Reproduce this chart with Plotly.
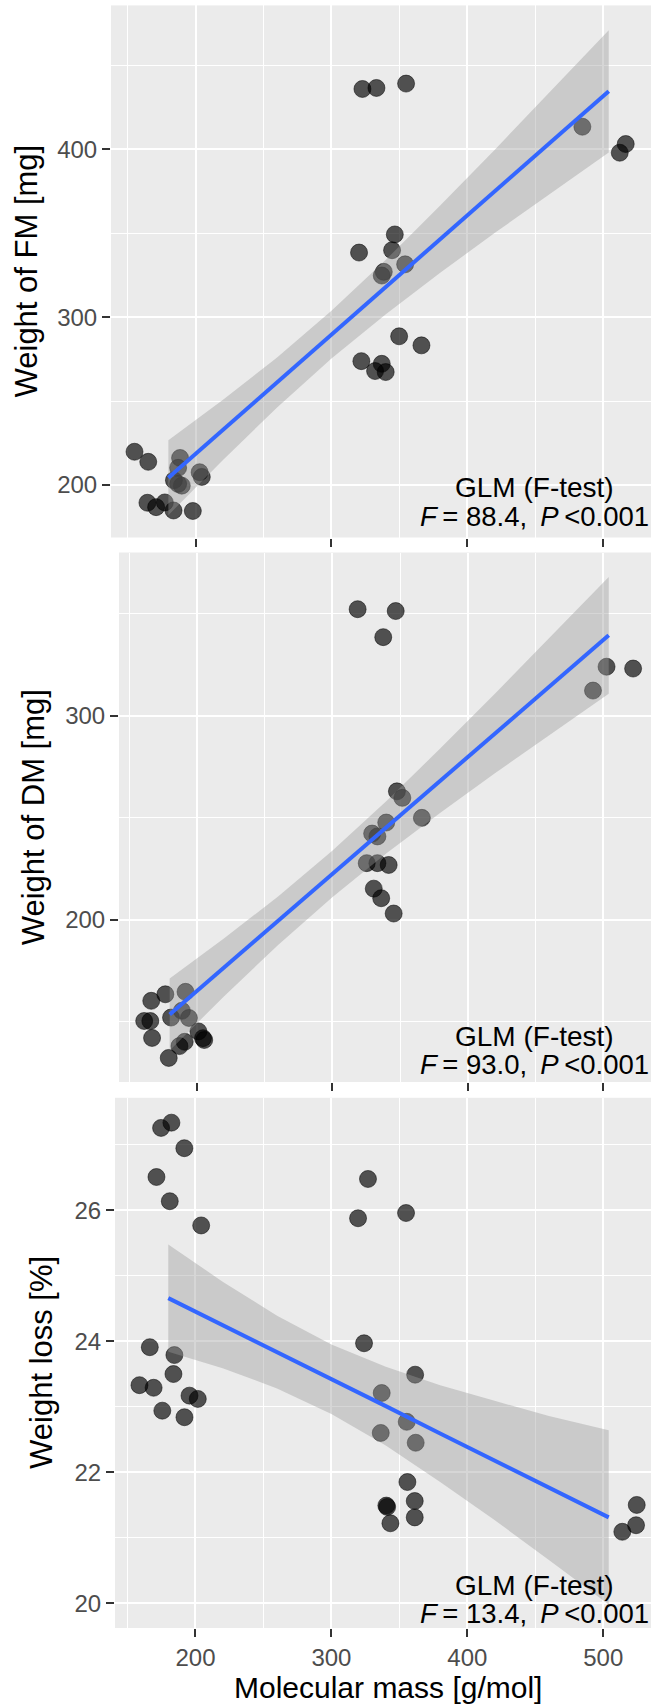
import plotly.graph_objects as go

# ---------------- data ----------------
# Panel 1: Weight of FM [mg] vs molecular mass (jittered)
fm_x = [322.8, 333.1, 354.9, 484.6, 516.5, 512.1, 346.6, 320.3, 344.6, 354.2, 338.5, 337.0,
        349.8, 366.2, 322.0, 337.0, 332.1, 339.9, 155.1, 165.2, 188.6, 187.2, 203.0, 204.6,
        184.1, 189.9, 187.2, 164.6, 171.0, 177.4, 183.8, 198.0]
fm_y = [436.0, 436.6, 439.2, 413.5, 403.2, 398.0, 349.3, 338.5, 339.9, 331.5, 327.0, 324.8,
        288.6, 283.2, 273.8, 272.2, 267.9, 267.3, 219.8, 213.8, 216.1, 210.2, 207.6, 204.8,
        202.8, 199.6, 200.6, 189.4, 186.8, 189.6, 184.8, 184.5]

# Panel 2: Weight of DM [mg]
dm_x = [318.7, 346.8, 337.6, 502.4, 522.0, 492.4, 347.7, 351.7, 366.1, 339.8, 329.4, 333.3,
        325.4, 333.3, 341.6, 330.6, 336.1, 345.3, 176.8, 191.7, 166.4, 189.0, 181.0, 194.2,
        161.2, 165.7, 167.0, 201.2, 204.6, 205.5, 191.1, 187.2, 179.3]
dm_y = [352.2, 351.3, 338.5, 324.0, 323.1, 312.3, 262.9, 259.7, 249.9, 247.6, 242.2, 240.8,
        227.7, 227.7, 226.8, 215.2, 210.5, 203.0, 163.4, 164.6, 160.2, 155.3, 152.0, 151.8,
        150.3, 150.3, 142.0, 145.2, 141.9, 141.0, 140.1, 138.0, 132.2]

# Panel 3: Weight loss [%]
wl_x = [174.7, 182.3, 191.8, 171.3, 181.1, 204.2, 326.9, 319.6, 354.9, 166.4, 184.5, 183.8,
        158.8, 169.2, 195.6, 201.7, 175.6, 191.9, 324.0, 361.6, 337.0, 355.4, 336.3, 362.0,
        355.9, 340.4, 341.0, 361.3, 361.3, 343.4, 524.6, 524.1, 514.0]
wl_y = [27.26, 27.34, 26.95, 26.51, 26.14, 25.77, 26.48, 25.88, 25.96, 23.91, 23.79, 23.50,
        23.33, 23.29, 23.17, 23.12, 22.94, 22.84, 23.97, 23.49, 23.21, 22.77, 22.60, 22.45,
        21.85, 21.49, 21.47, 21.56, 21.31, 21.22, 21.50, 21.19, 21.09]

# Linear fits with 95% confidence band
fit_x = [180, 220, 260, 300, 340, 380, 420, 460, 504]
fm_fit = [204.3, 232.7, 261.1, 289.6, 318.0, 346.5, 374.9, 403.3, 434.6]
fm_hi = [226.6, 250.6, 276.0, 303.8, 334.2, 366.5, 399.7, 433.5, 471.0]
fm_lo = [182.0, 214.8, 246.2, 275.4, 301.8, 326.5, 350.1, 373.1, 398.2]
dm_fit = [153.5, 176.5, 199.5, 222.4, 245.4, 268.3, 291.3, 314.2, 339.4]
dm_hi = [171.1, 190.7, 211.4, 233.8, 258.2, 284.1, 310.8, 337.9, 368.0]
dm_lo = [135.9, 162.3, 187.6, 211.0, 232.6, 252.5, 271.8, 290.5, 310.8]
wl_fit = [24.66, 24.25, 23.83, 23.42, 23.01, 22.59, 22.18, 21.76, 21.31]
wl_hi = [25.48, 24.91, 24.39, 23.95, 23.61, 23.33, 23.09, 22.86, 22.64]
wl_lo = [23.84, 23.59, 23.28, 22.89, 22.41, 21.85, 21.27, 20.66, 19.98]

y_titles = ["Weight of FM [mg]", "Weight of DM [mg]", "Weight loss [%]"]
x_title = "Molecular mass [g/mol]"
stats_title = "GLM (F-test)"
f_values = ["88.4", "93.0", "13.4"]
p_text = "&lt;0.001"
x_ticks = [200, 300, 400, 500]
x_minor = [150, 250, 350, 450, 550]

# ---------------- figure ----------------
W, H = 651, 1705
FONT = "Liberation Sans, Arial, Helvetica, sans-serif"

panels = [
    dict(x=fm_x, y=fm_y, fit=fm_fit, hi=fm_hi, lo=fm_lo,
         top=5.4, bot=537.5, left=111, xr=[137.8, 535.1], yr=[168.7, 485.8],
         dt=100, mdt=50, title_x=26, ann1=488),
    dict(x=dm_x, y=dm_y, fit=dm_fit, hi=dm_hi, lo=dm_lo,
         top=552.5, bot=1082, left=119, xr=[142.6, 535.2], yr=[120.4, 380.0],
         dt=100, mdt=50, title_x=33, ann1=1036.5),
    dict(x=wl_x, y=wl_y, fit=wl_fit, hi=wl_hi, lo=wl_lo,
         top=1097.8, bot=1628, left=115, xr=[140.8, 535.1], yr=[19.62, 27.72],
         dt=2, mdt=1, title_x=42, ann1=1585),
]
LINE_GAP = 28  # px between the two lines of the statistics text

fig = go.Figure()
annotations = []
layout_axes = {}

for i, p in enumerate(panels, start=1):
    xa = "x" if i == 1 else f"x{i}"
    ya = "y" if i == 1 else f"y{i}"
    # points
    fig.add_trace(go.Scatter(
        x=p["x"], y=p["y"], xaxis=xa, yaxis=ya, mode="markers",
        marker=dict(size=17, color="rgba(0,0,0,0.66)",
                    line=dict(color="rgba(0,0,0,0.5)", width=1)),
        showlegend=False, hoverinfo="skip"))
    # confidence band
    fig.add_trace(go.Scatter(
        x=fit_x + fit_x[::-1], y=p["hi"] + p["lo"][::-1], xaxis=xa, yaxis=ya,
        mode="lines", fill="toself", fillcolor="rgba(153,153,153,0.4)",
        line=dict(width=0, color="rgba(0,0,0,0)"), showlegend=False, hoverinfo="skip"))
    # fitted line
    fig.add_trace(go.Scatter(
        x=fit_x, y=p["fit"], xaxis=xa, yaxis=ya, mode="lines",
        line=dict(color="#3366FF", width=4), showlegend=False, hoverinfo="skip"))

    xdom = [p["left"] / W, 1.0]
    ydom = [1 - p["bot"] / H, 1 - p["top"] / H]
    layout_axes["xaxis" if i == 1 else f"xaxis{i}"] = dict(
        domain=xdom, anchor=ya, range=p["xr"],
        tickmode="array", tickvals=x_ticks, ticktext=[str(v) for v in x_ticks],
        showticklabels=(i == 3),
        showgrid=True, gridcolor="white", gridwidth=2, zeroline=False,
        ticks="outside", ticklen=8, tickwidth=1.5, tickcolor="#333333",
        tickfont=dict(size=24, color="#4D4D4D", family=FONT),
        minor=dict(tickmode="array", tickvals=x_minor,
                   showgrid=True, gridcolor="white", gridwidth=1),
        showline=False, fixedrange=True)
    layout_axes["yaxis" if i == 1 else f"yaxis{i}"] = dict(
        domain=ydom, anchor=xa, range=p["yr"],
        tickmode="linear", tick0=0, dtick=p["dt"],
        showgrid=True, gridcolor="white", gridwidth=2, zeroline=False,
        ticks="outside", ticklen=8, tickwidth=1.5, tickcolor="#333333",
        tickfont=dict(size=24, color="#4D4D4D", family=FONT),
        minor=dict(tickmode="linear", tick0=0, dtick=p["mdt"],
                   showgrid=True, gridcolor="white", gridwidth=1),
        showline=False, fixedrange=True)

    # y-axis title
    annotations.append(dict(
        text=y_titles[i - 1], textangle=-90, xref="paper", yref="paper",
        x=p["title_x"] / W, y=1 - (p["top"] + p["bot"]) / 2 / H,
        xanchor="center", yanchor="middle", showarrow=False,
        font=dict(size=31, color="black", family=FONT)))
    # statistics text
    annotations.append(dict(
        text=stats_title, xref="paper", yref="paper",
        x=534 / W, y=1 - p["ann1"] / H, xanchor="center", yanchor="middle",
        showarrow=False, font=dict(size=28, color="black", family=FONT)))
    annotations.append(dict(
        text=f"<i>F</i>\u2009= {f_values[i - 1]},\u00a0\u2009<i>P</i>\u2009{p_text}",
        xref="paper", yref="paper",
        x=534 / W, y=1 - (p["ann1"] + LINE_GAP) / H, xanchor="center", yanchor="middle",
        showarrow=False, font=dict(size=27.5, color="black", family=FONT)))

annotations.append(dict(
    text=x_title, xref="paper", yref="paper", x=388 / W, y=1 - 1687 / H,
    xanchor="center", yanchor="middle", showarrow=False,
    font=dict(size=30, color="black", family=FONT)))

fig.update_layout(
    width=W, height=H, autosize=False,
    margin=dict(l=0, r=0, t=0, b=0),
    paper_bgcolor="white", plot_bgcolor="#EBEBEB",
    font=dict(family=FONT, color="black"),
    annotations=annotations, showlegend=False,
    **layout_axes)

fig.write_html("out.html", config={"displayModeBar": False})

# remove the default page margin so the figure fills the window exactly
with open("out.html", "r", encoding="utf-8") as fh:
    page = fh.read()
page = page.replace("<head>", "<head><style>html,body{margin:0;padding:0;overflow:hidden;}</style>", 1)
with open("out.html", "w", encoding="utf-8") as fh:
    fh.write(page)
